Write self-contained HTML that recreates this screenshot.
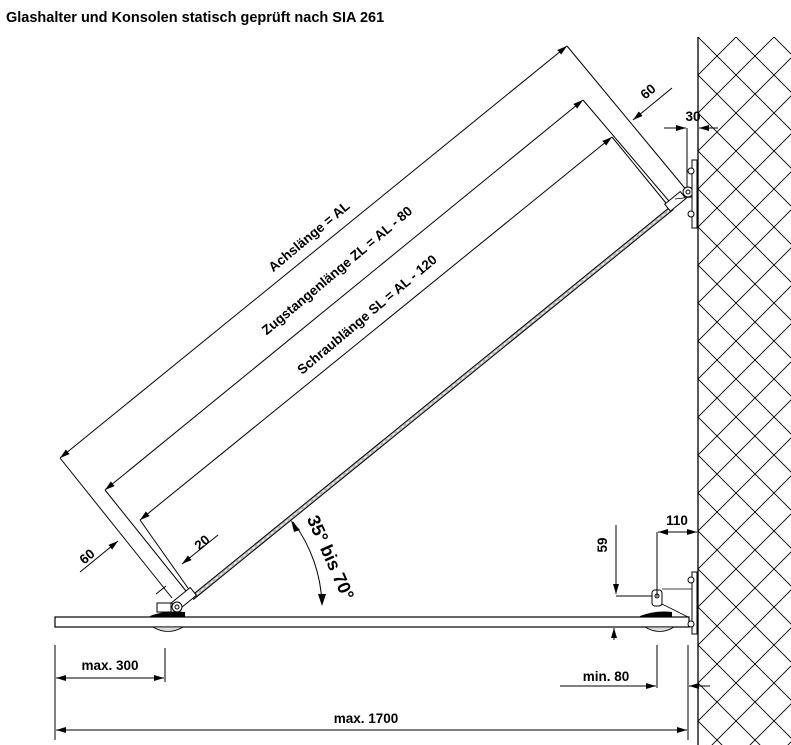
<!DOCTYPE html>
<html><head><meta charset="utf-8"><style>
html,body{margin:0;padding:0;background:#fff}
svg{display:block}
text{font-family:"Liberation Sans",Arial,sans-serif;fill:#000}
</style></head><body>
<svg width="791" height="745" viewBox="0 0 791 745" xmlns="http://www.w3.org/2000/svg">
<defs>
<pattern id="hp" width="38" height="38" patternUnits="userSpaceOnUse" x="698" y="37">
<path d="M0,0 L38,38 M38,0 L0,38" stroke="#000" stroke-width="0.9"/>
</pattern>
<marker id="ar" viewBox="0 0 10 6" refX="10" refY="3" markerWidth="10" markerHeight="6" orient="auto" markerUnits="userSpaceOnUse"><path d="M0,0 L10,3 L0,6 z" fill="#000"/></marker>
<marker id="as" viewBox="0 0 10 6" refX="0" refY="3" markerWidth="10" markerHeight="6" orient="auto" markerUnits="userSpaceOnUse"><path d="M10,0 L0,3 L10,6 z" fill="#000"/></marker>
</defs>
<text x="6" y="22" font-size="14.5" font-weight="bold">Glashalter und Konsolen statisch geprüft nach SIA 261</text>

<rect x="698" y="37" width="93" height="708" fill="url(#hp)"/>
<line x1="698" y1="37" x2="698" y2="745" stroke="#000" stroke-width="1.3"/>

<g stroke="#000" stroke-width="1" fill="none">
<line x1="60" y1="458" x2="567" y2="46" marker-start="url(#as)" marker-end="url(#ar)"/>
<line x1="105" y1="490" x2="583" y2="100" marker-start="url(#as)" marker-end="url(#ar)"/>
<line x1="140" y1="520" x2="612" y2="137" marker-start="url(#as)" marker-end="url(#ar)"/>
<line x1="60" y1="458" x2="172" y2="598"/>
<line x1="105" y1="490" x2="190" y2="596"/>
<line x1="140" y1="520" x2="195" y2="598"/>
<line x1="567" y1="46" x2="688" y2="192"/>
<line x1="583" y1="100" x2="674" y2="207"/>
<line x1="612" y1="137" x2="670" y2="208"/>
<line x1="672" y1="88" x2="633" y2="120" marker-end="url(#ar)"/>
<line x1="80" y1="572" x2="118" y2="541" marker-end="url(#ar)"/>
<line x1="156" y1="594" x2="166" y2="586"/>
<line x1="218" y1="535" x2="182" y2="564" marker-end="url(#ar)"/>
<line x1="664" y1="128" x2="686" y2="128" marker-end="url(#ar)"/>
<line x1="718" y1="128" x2="699" y2="128" marker-end="url(#ar)"/>
<line x1="687" y1="128" x2="687" y2="190"/>
<rect x="55" y="617" width="634" height="10" stroke-width="1.2"/>
<path d="M293,522 A145,145 0 0 1 322,604" />
</g>
<path d="M291,520 L300,530 L294,532 z" fill="#000"/>
<path d="M322,606 L318,594 L326,594 z" fill="#000"/>

<line x1="192" y1="598" x2="672" y2="208" stroke="#000" stroke-width="5"/>
<line x1="192" y1="598" x2="672" y2="208" stroke="#bbb" stroke-width="3"/>
<line x1="192" y1="598" x2="672" y2="208" stroke="#fff" stroke-width="1" stroke-dasharray="3 3"/>
<g stroke="#000" stroke-width="1" fill="#fff">
<rect x="172" y="594" width="24" height="10" transform="rotate(-39 184 599)"/>
<circle cx="177" cy="607" r="5"/><circle cx="177" cy="607" r="2"/>
<rect x="665" y="197" width="20" height="9" transform="rotate(-39 675 201)"/>
<circle cx="688" cy="192" r="5"/><circle cx="688" cy="192" r="2"/>
<rect x="157" y="603" width="14" height="9"/>
<rect x="692" y="160" width="5" height="68"/>
<circle cx="691" cy="171" r="3"/><circle cx="691" cy="214" r="3"/>
<rect x="692" y="572" width="5" height="62"/>
<circle cx="691" cy="580" r="3"/><circle cx="691" cy="624" r="3"/>
<rect x="652" y="590" width="10" height="16" rx="3"/>
<circle cx="657" cy="596" r="2"/>
</g>
<g fill="#000"><path d="M150,616 Q165,610 185,612 L185,617 L150,617 z"/>
<path d="M640,616 Q656,610 672,612 L672,617 L640,617 z"/></g>
<g fill="#ddd" stroke="#000" stroke-width="0.8">
<path d="M153,627 Q168,636 183,627 z"/><path d="M645,627 Q660,636 674,627 z"/></g>
<g stroke="#000" stroke-width="0.8" fill="none">
<line x1="662" y1="589" x2="692" y2="589"/><line x1="662" y1="604" x2="688" y2="617"/>
<line x1="675" y1="199" x2="692" y2="197"/>
</g>

<g stroke="#000" stroke-width="1" fill="none">
<line x1="55" y1="645" x2="55" y2="740"/>
<line x1="165" y1="648" x2="165" y2="682"/>
<line x1="56" y1="678" x2="164" y2="678" marker-start="url(#as)" marker-end="url(#ar)"/>
<line x1="56" y1="730" x2="687" y2="730" marker-start="url(#as)" marker-end="url(#ar)"/>
<line x1="688" y1="645" x2="688" y2="740"/>
<line x1="657" y1="645" x2="657" y2="688"/>
<line x1="560" y1="686" x2="656" y2="686" marker-end="url(#ar)"/>
<line x1="710" y1="686" x2="689" y2="686" marker-end="url(#ar)"/>
<line x1="657" y1="532" x2="657" y2="597"/>
<line x1="658" y1="532" x2="697" y2="532" marker-start="url(#as)" marker-end="url(#ar)"/>
<line x1="616" y1="525" x2="616" y2="594" marker-end="url(#ar)"/>
<line x1="616" y1="596" x2="652" y2="596"/>
<line x1="614" y1="640" x2="614" y2="628" marker-end="url(#ar)"/>
</g>

<g font-size="13.5" font-weight="bold">
<text transform="translate(312,240) rotate(-40)" text-anchor="middle">Achslänge = AL</text>
<text transform="translate(340,274) rotate(-40)" text-anchor="middle">Zugstangenlänge ZL = AL - 80</text>
<text transform="translate(370,318) rotate(-40)" text-anchor="middle">Schraublänge SL = AL - 120</text>
<text transform="translate(651,95) rotate(-40)" text-anchor="middle">60</text>
<text transform="translate(90,560) rotate(-40)" text-anchor="middle">60</text>
<text transform="translate(205,546) rotate(-40)" text-anchor="middle">20</text>
<text x="693" y="121" text-anchor="middle">30</text>
<text x="677" y="525" text-anchor="middle">110</text>
<text transform="translate(607,545) rotate(-90)" text-anchor="middle">59</text>
<text x="110" y="670" text-anchor="middle">max. 300</text>
<text x="606" y="681" text-anchor="middle">min. 80</text>
<text x="366" y="723" text-anchor="middle">max. 1700</text>
</g>
<text transform="translate(325,560) rotate(66)" text-anchor="middle" font-size="18" font-weight="bold">35° bis 70°</text>
</svg>
</body></html>
